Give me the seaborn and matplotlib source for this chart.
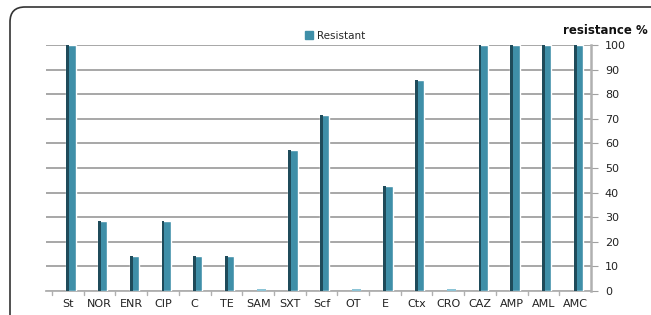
import numpy as np
import pandas as pd
import matplotlib
matplotlib.use("Agg")
import matplotlib.pyplot as plt
from matplotlib.patches import FancyBboxPatch, Rectangle
import seaborn as sns

categories = ["St", "NOR", "ENR", "CIP", "C", "TE", "SAM", "SXT", "Scf", "OT",
              "E", "Ctx", "CRO", "CAZ", "AMP", "AML", "AMC"]
resistant = [100, 28.57, 14.29, 28.57, 14.29, 14.29, 0, 57.14, 71.43, 0,
             42.86, 85.71, 0, 100, 100, 100, 100]
yticks = [0, 10, 20, 30, 40, 50, 60, 70, 80, 90, 100]

sns.set_style("white")
plt.rcParams['font.family'] = ['DejaVu Sans']

W, H = 651, 315
fig = plt.figure(figsize=(W / 100, H / 100), dpi=100)
ax = fig.add_axes([46 / W, (H - 291) / H, (591 - 46) / W, (291 - 45) / H])

df = pd.DataFrame({"drug": categories, "value": resistant})
main = "#3F8FA8"
dark = "#1F4B5A"
n = len(categories)
x = np.arange(n)
vals = np.array(resistant)
sns.barplot(data=df, x="drug", y="value", color=main, width=0.29,
            saturation=1, ax=ax, zorder=3)
# shift the seaborn bars slightly right for the 3D offset
for p in ax.patches:
    p.set_x(p.get_x() + 0.1)
# dark side face for a 3D look
ax.bar(x + 0.1 - 0.145, vals, width=0.09, align="edge", color=dark, zorder=4, linewidth=0)
# tiny slivers for zero values
ax.bar(x + 0.1, np.where(vals == 0, 0.7, 0), width=0.29, color="#8CC4D6", zorder=3, linewidth=0)

ax.set_xlim(-0.69, n - 0.5)
ax.set_ylim(0, 100)
ax.set_yticks(yticks)
ax.yaxis.tick_right()
ax.tick_params(axis="y", direction="out", length=5, color="#A0A0A0", labelsize=8,
               labelcolor="#222222", pad=5)
ax.tick_params(axis="x", length=0, labelsize=8, labelcolor="#222222", pad=6)
ax.set_xlabel("")
ax.set_ylabel("")
for yv in yticks:
    ax.axhline(yv, color="#A0A0A0", lw=1.3, zorder=1)
for s in ["left", "top"]:
    ax.spines[s].set_visible(False)
ax.spines["right"].set_color("#B0B0B0")
ax.spines["right"].set_linewidth(1.8)
ax.spines["bottom"].set_color("#B0B0B0")
ax.spines["bottom"].set_linewidth(1.3)
# category separator ticks
for b in np.arange(-0.5, n - 0.5, 1):
    ax.plot([b, b], [0, -1.5], color="#B0B0B0", lw=1, clip_on=False)

ax.legend([Rectangle((0, 0), 1, 1, color=main)], ["Resistant"], loc="lower left",
          bbox_to_anchor=(305 / W, (H - 41) / H), bbox_transform=fig.transFigure,
          frameon=False, fontsize=7.5, handlelength=0.8, handleheight=0.8,
          handletextpad=0.4, borderpad=0, borderaxespad=0)

fig.text(648 / W, (H - 31) / H, "resistance %", ha="right", va="center",
         fontsize=8.5, fontweight="bold", color="#111111")

frame = FancyBboxPatch((0.10, -1.0), 10.0, (H - 7) / 100 + 1.0,
                       boxstyle="round,pad=0,rounding_size=0.15",
                       transform=fig.dpi_scale_trans, fill=False,
                       edgecolor="#333333", lw=1.2)
fig.patches.append(frame)

fig.savefig("out.png", dpi=100)
